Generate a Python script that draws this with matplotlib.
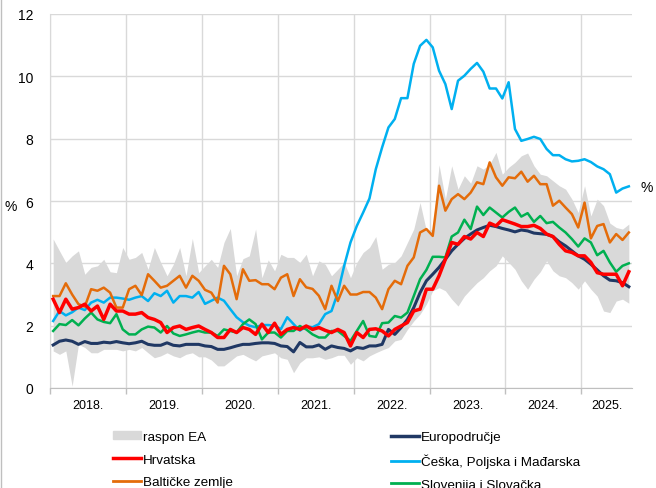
import numpy as np
import matplotlib
matplotlib.use("Agg")
import matplotlib.pyplot as plt
from matplotlib.lines import Line2D
from matplotlib.patches import Patch

plt.rcParams['font.family'] = ['Liberation Sans', 'DejaVu Sans']

# monthly data, Jan 2018 - Aug 2025 (%)
years = ['2018.', '2019.', '2020.', '2021.', '2022.', '2023.', '2024.', '2025.']

ea_low = [1.19, 1.08, 1.19, 0.06, 1.40, 1.30, 1.13, 1.13, 1.24, 1.24, 1.24, 1.19,
          1.24, 1.19, 1.30, 1.13, 0.97, 1.03, 1.13, 1.03, 0.97, 1.08, 1.13, 1.00,
          1.00, 0.90, 0.71, 0.71, 0.87, 1.03, 1.08, 0.97, 0.87, 1.03, 1.08, 1.13,
          0.97, 0.92, 0.49, 0.81, 0.97, 0.97, 1.00, 0.92, 0.97, 1.05, 1.05, 0.76,
          0.97, 0.87, 1.03, 1.13, 1.22, 1.30, 1.51, 1.56, 1.88, 2.15, 2.37, 2.69,
          3.12, 3.22, 3.12, 2.85, 2.63, 2.95, 3.17, 3.38, 3.54, 3.76, 3.92, 4.24,
          4.03, 3.81, 3.44, 3.17, 3.49, 3.73, 4.08, 3.76, 3.60, 3.54, 3.38, 3.17,
          3.44, 3.17, 2.95, 2.47, 2.42, 2.79, 2.85, 2.72]
ea_high = [4.78, 4.40, 4.03, 4.24, 4.40, 3.65, 3.87, 3.92, 4.13, 3.73, 3.70, 4.51,
           4.13, 4.19, 4.35, 3.81, 4.51, 4.03, 3.60, 3.97, 4.51, 3.60, 4.80, 3.70,
           3.92, 4.13, 3.87, 4.67, 5.12, 3.60, 4.15, 4.24, 5.10, 3.54, 4.11, 3.76,
           4.29, 4.19, 4.19, 4.03, 4.29, 3.60, 4.08, 3.97, 3.60, 3.81, 4.03, 3.54,
           4.03, 4.35, 4.51, 4.86, 3.81, 3.97, 4.03, 4.24, 4.67, 5.10, 5.95, 5.04,
           5.10, 7.16, 6.06, 7.13, 6.38, 6.81, 6.57, 7.13, 7.02, 7.18, 7.56, 6.86,
           7.08, 7.24, 7.45, 7.54, 7.13, 6.86, 6.81, 6.65, 6.49, 6.38, 6.06, 5.63,
           6.49, 5.52, 6.06, 5.85, 5.29, 5.15, 5.10, 5.26]
euro = [1.38, 1.50, 1.54, 1.50, 1.40, 1.49, 1.43, 1.43, 1.47, 1.45, 1.49, 1.45,
        1.42, 1.45, 1.50, 1.40, 1.37, 1.37, 1.45, 1.37, 1.35, 1.40, 1.40, 1.40,
        1.35, 1.33, 1.24, 1.24, 1.29, 1.35, 1.40, 1.40, 1.43, 1.45, 1.45, 1.43,
        1.35, 1.33, 1.16, 1.46, 1.32, 1.32, 1.38, 1.24, 1.35, 1.30, 1.27, 1.19,
        1.30, 1.27, 1.35, 1.35, 1.40, 1.88, 1.72, 1.94, 2.20, 2.58, 3.06, 3.44,
        3.65, 3.87, 4.13, 4.40, 4.61, 4.80, 4.94, 5.07, 5.15, 5.22, 5.18, 5.12,
        5.07, 5.01, 5.07, 5.04, 4.97, 4.95, 4.93, 4.86, 4.69, 4.56, 4.40, 4.24,
        4.13, 3.97, 3.79, 3.60, 3.46, 3.44, 3.38, 3.25]
hrvatska = [2.85, 2.42, 2.85, 2.53, 2.58, 2.69, 2.47, 2.63, 2.20, 2.69, 2.47, 2.47,
            2.37, 2.37, 2.42, 2.26, 2.20, 2.10, 1.78, 1.94, 1.99, 1.88, 1.94, 1.99,
            1.88, 1.78, 1.62, 1.62, 1.88, 1.78, 1.94, 1.88, 1.72, 2.05, 1.78, 2.08,
            1.72, 1.88, 1.94, 1.88, 1.99, 1.88, 1.94, 1.85, 1.78, 1.88, 1.78, 1.35,
            1.78, 1.62, 1.88, 1.90, 1.83, 1.67, 1.88, 1.99, 2.10, 2.47, 2.53, 3.17,
            3.17, 3.60, 4.13, 4.67, 4.61, 4.86, 4.78, 4.99, 4.86, 5.29, 5.20, 5.40,
            5.33, 5.26, 5.18, 5.18, 5.22, 5.12, 4.94, 4.86, 4.61, 4.40, 4.35, 4.24,
            4.24, 4.03, 3.70, 3.65, 3.65, 3.65, 3.28, 3.73]
cz_pl_hu = [2.15, 2.47, 2.33, 2.43, 2.58, 2.50, 2.74, 2.83, 2.74, 2.90, 2.90, 2.87,
            2.83, 2.90, 2.95, 2.79, 3.04, 2.95, 3.12, 2.74, 2.95, 2.95, 2.90, 3.08,
            2.70, 2.80, 2.90, 2.80, 2.53, 2.27, 2.11, 2.00, 1.95, 2.02, 2.02, 2.00,
            1.89, 2.27, 2.05, 1.84, 1.98, 1.95, 2.05, 2.37, 2.47, 3.06, 3.92, 4.67,
            5.20, 5.63, 6.08, 7.02, 7.72, 8.36, 8.63, 9.30, 9.30, 10.40, 10.98, 11.17,
            10.93, 10.18, 9.75, 8.95, 9.86, 10.02, 10.24, 10.43, 10.15, 9.61, 9.61, 9.29,
            9.81, 8.31, 7.93, 7.99, 8.06, 7.99, 7.67, 7.47, 7.47, 7.34, 7.27, 7.29,
            7.34, 7.25, 7.11, 7.02, 6.86, 6.27, 6.40, 6.47]
baltic = [2.95, 2.95, 3.36, 3.00, 2.69, 2.61, 3.17, 3.12, 3.22, 3.06, 2.58, 2.58,
          3.17, 3.28, 2.98, 3.65, 3.44, 3.22, 3.28, 3.44, 3.60, 3.22, 3.60, 3.44,
          3.15, 3.06, 2.74, 3.92, 3.65, 2.85, 3.81, 3.44, 3.46, 3.33, 3.33, 3.17,
          3.54, 3.65, 2.95, 3.49, 3.23, 3.18, 2.96, 2.53, 3.28, 2.79, 3.28, 3.00,
          3.00, 3.08, 3.08, 2.90, 2.53, 3.17, 3.44, 3.33, 3.92, 4.19, 4.99, 5.10,
          4.88, 6.49, 5.69, 6.06, 6.22, 6.06, 6.27, 6.60, 6.54, 7.24, 6.76, 6.49,
          6.76, 6.73, 6.94, 6.62, 6.81, 6.54, 6.54, 5.85, 6.01, 5.79, 5.58, 5.15,
          5.95, 4.80, 5.20, 5.26, 4.67, 4.94, 4.75, 4.99]
si_sk = [1.83, 2.05, 2.02, 2.18, 2.01, 2.23, 2.42, 2.20, 2.12, 2.08, 2.37, 1.88,
         1.72, 1.72, 1.88, 1.97, 1.94, 1.78, 1.99, 1.75, 1.67, 1.72, 1.78, 1.83,
         1.78, 1.78, 1.67, 1.88, 1.83, 1.78, 2.05, 2.20, 2.05, 1.56, 1.78, 1.78,
         1.62, 1.83, 1.83, 1.99, 1.88, 1.72, 1.62, 1.62, 1.83, 1.83, 1.67, 1.51,
         1.83, 2.15, 1.67, 1.64, 2.08, 2.10, 2.31, 2.26, 2.42, 2.95, 3.49, 3.79,
         4.21, 4.21, 4.19, 4.86, 4.99, 5.40, 5.10, 5.82, 5.55, 5.79, 5.63, 5.47,
         5.65, 5.79, 5.50, 5.61, 5.33, 5.52, 5.29, 5.33, 5.15, 4.99, 4.78, 4.54,
         4.80, 4.67, 4.26, 4.40, 4.03, 3.73, 3.92, 4.00]

x = np.arange(len(euro))
grid_col = '#d9d9d9'

fig = plt.figure(figsize=(6.56, 4.89), dpi=100)
ax = fig.add_axes([50/656, 1-389/489, 582/656, 374/489])

ax.fill_between(x, ea_low, ea_high, color='#d9d9d9', linewidth=0, zorder=1)
ax.plot(x, euro, color='#203864', lw=2.2, zorder=3)
ax.plot(x, cz_pl_hu, color='#00b0f0', lw=1.8, zorder=3)
ax.plot(x, baltic, color='#e46c0a', lw=1.8, zorder=3)
ax.plot(x, si_sk, color='#00b050', lw=1.8, zorder=3)
ax.plot(x, hrvatska, color='#ff0000', lw=2.5, zorder=4)

ax.set_xlim(-0.5, len(x) - 0.5)
ax.set_ylim(0, 12)
ax.set_yticks(np.arange(0, 13, 2))
bounds = np.arange(-0.5, len(x), 12)
ax.set_xticks(bounds)
ax.set_xticklabels([])
mids = [(b + min(b + 12, len(x) - 0.5)) / 2 for b in bounds]
ax.set_xticks(mids, minor=True)
ax.set_xticklabels(years, minor=True)
ax.tick_params(axis='x', which='major', length=4, color='#bfbfbf', width=1)
ax.tick_params(axis='x', which='minor', length=0, pad=8, labelsize=9)
ax.tick_params(axis='y', length=0, pad=12, labelsize=10)
ax.grid(True, which='major', color=grid_col, lw=1, zorder=0)
ax.set_axisbelow(True)
for s in ['top', 'right']:
    ax.spines[s].set_visible(False)
ax.spines['left'].set_color(grid_col)
ax.spines['bottom'].set_color('#bfbfbf')

fig.text(11/656, 1-207/489, '%', fontsize=10, ha='center', va='center')
fig.text(647/656, 1-188/489, '%', fontsize=10, ha='center', va='center')
fig.add_artist(Line2D([1/656, 1/656], [0, 1], color='#bfbfbf', lw=1))

h1 = [Patch(color='#d9d9d9'),
      Line2D([], [], color='#ff0000', lw=2.5),
      Line2D([], [], color='#e46c0a', lw=2)]
l1 = ['raspon EA', 'Hrvatska', 'Baltičke zemlje']
h2 = [Line2D([], [], color='#203864', lw=2.5),
      Line2D([], [], color='#00b0f0', lw=2),
      Line2D([], [], color='#00b050', lw=2)]
l2 = ['Europodručje', 'Češka, Poljska i Mađarska', 'Slovenija i Slovačka']
kw = dict(loc='upper left', frameon=False, fontsize=9.7, handlelength=2.1,
          handleheight=0.5, handletextpad=0.15, labelspacing=0.78,
          borderpad=0, borderaxespad=0)
leg1 = fig.legend(h1, l1, bbox_to_anchor=(113/656, 1-432/489), **kw)
leg2 = fig.legend(h2, l2, bbox_to_anchor=(391/656, 1-432/489), **kw)

fig.savefig('out.png', dpi=100)
